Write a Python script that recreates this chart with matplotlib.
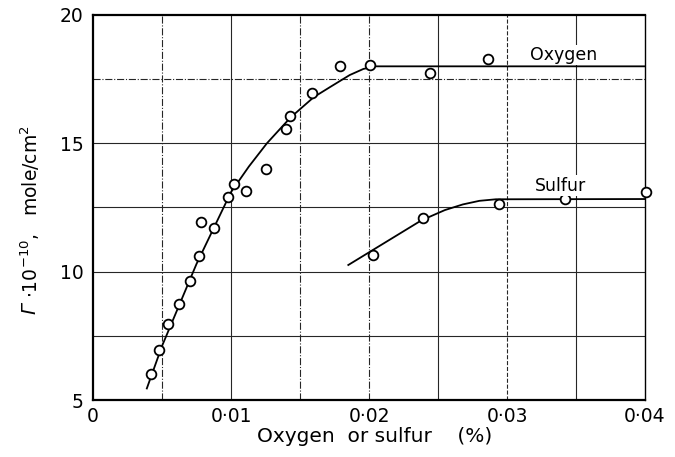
import matplotlib
matplotlib.use("Agg")
import matplotlib.pyplot as plt

# ---- data ----
oxygen_x = [0.0042, 0.0048, 0.0054, 0.0062, 0.0070, 0.0077, 0.0078, 0.0088,
            0.0098, 0.0102, 0.0111, 0.0125, 0.0140, 0.0143, 0.0159, 0.0179,
            0.0201, 0.0244, 0.0286]
oxygen_y = [6.0, 6.95, 7.95, 8.75, 9.65, 10.6, 11.95, 11.7,
            12.9, 13.4, 13.15, 14.0, 15.55, 16.05, 16.95, 18.0,
            18.05, 17.75, 18.3]

sulfur_x = [0.0203, 0.0239, 0.0294, 0.0342, 0.0401]
sulfur_y = [10.65, 12.1, 12.65, 12.85, 13.1]

oxygen_fit_x = [0.0039, 0.0050, 0.0075, 0.0100, 0.0113, 0.0126, 0.0143,
                0.0160, 0.0172, 0.0186, 0.0196, 0.0205, 0.0400]
oxygen_fit_y = [5.45, 7.1, 10.3, 13.1, 14.1, 15.0, 16.0,
                16.8, 17.2, 17.66, 17.9, 18.0, 18.0]

sulfur_fit_x = [0.0185, 0.0238, 0.0255, 0.0268, 0.0280, 0.0292, 0.0400]
sulfur_fit_y = [10.26, 12.0, 12.4, 12.62, 12.76, 12.82, 12.83]

x_ticks = [0, 0.01, 0.02, 0.03, 0.04]
x_tick_labels = ["0", "0·01", "0·02", "0·03", "0·04"]
y_ticks = [5, 10, 15, 20]
y_tick_labels = ["5", "10", "15", "20"]
x_grid = [0.005, 0.010, 0.015, 0.020, 0.025, 0.030, 0.035]
x_grid_styles = ["-.", "-", "-.", "-.", "-", "--", "-"]
y_grid = [7.5, 10, 12.5, 15, 17.5]
y_grid_styles = ["-", "-", "-", "-", "-."]

plt.rcParams["font.family"] = ["DejaVu Sans"]
plt.rcParams["mathtext.fontset"] = "dejavusans"

fig = plt.figure(figsize=(6.75, 4.57), dpi=100)
ax = fig.add_axes([93 / 675, 57 / 457, 552 / 675, 385 / 457])

ax.set_xlim(0, 0.04)
ax.set_ylim(5, 20)

for xv, ls in zip(x_grid, x_grid_styles):
    ax.axvline(xv, color="0.15", lw=0.8, ls=ls, zorder=1)
for yv, ls in zip(y_grid, y_grid_styles):
    ax.axhline(yv, color="0.15", lw=0.8, ls=ls, zorder=1)

ax.plot(oxygen_fit_x, oxygen_fit_y, color="black", lw=1.3, zorder=2, clip_on=False)
ax.plot(sulfur_fit_x, sulfur_fit_y, color="black", lw=1.3, zorder=2, clip_on=False)

ax.plot(oxygen_x, oxygen_y, "o", ms=7, mfc="white", mec="black", mew=1.3,
        zorder=3, clip_on=False)
ax.plot(sulfur_x, sulfur_y, "o", ms=7, mfc="white", mec="black", mew=1.3,
        zorder=3, clip_on=False)

ax.text(0.0341, 18.25, "Oxygen", fontsize=12.5, ha="center", va="baseline",
        bbox=dict(facecolor="white", edgecolor="none", pad=1), zorder=4)
ax.text(0.0339, 13.15, "Sulfur", fontsize=12.5, ha="center", va="baseline",
        bbox=dict(facecolor="white", edgecolor="none", pad=1), zorder=4)

ax.set_xticks(x_ticks)
ax.set_xticklabels(x_tick_labels, fontsize=13.5)
ax.set_yticks(y_ticks)
ax.set_yticklabels(y_tick_labels, fontsize=13.5)
ax.tick_params(axis="x", length=0, pad=5)
ax.tick_params(axis="y", length=0, pad=7)

for side in ["left", "bottom", "top"]:
    ax.spines[side].set_linewidth(1.6)
ax.spines["right"].set_linewidth(1.0)

# x-axis label
fig.text(375 / 675, 1 - 436 / 457, "Oxygen  or sulfur    (%)", fontsize=14.5,
         ha="center", va="center")
# y-axis label: italic Gamma followed by the rest of the label
fig.text(30 / 675, 1 - 309 / 457, "Γ", fontsize=14, style="italic",
         rotation=90, ha="center", va="center")
fig.text(30 / 675, 1 - 298 / 457, r"$\cdot$10$^{-10}$,   mole/cm$^2$",
         fontsize=13.5, rotation=90, ha="center", va="bottom")

fig.savefig("out.png", dpi=100)
